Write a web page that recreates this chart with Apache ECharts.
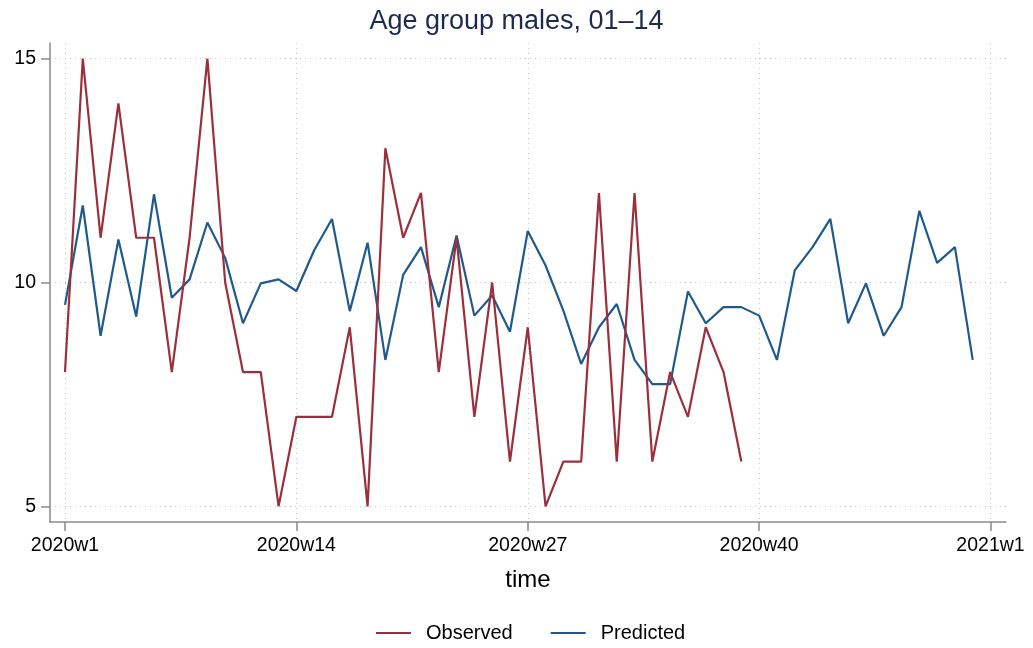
<!DOCTYPE html>
<html>
<head>
<meta charset="utf-8">
<script src="https://cdn.jsdelivr.net/npm/echarts@6/dist/echarts.min.js"></script>
<style>
html,body{margin:0;padding:0;background:#fff;}
#c{width:1033px;height:648px;}
</style>
</head>
<body>
<div id="c"></div>
<script>
const weekLabels = ['2020w1','2020w14','2020w27','2020w40','2021w1'];
const weekTicks = [0, 13, 26, 39, 52];
const yTicks = [5, 10, 15];
const observed = [8,15,11,14,11,11,8,11,15,10,8,8,5,7,7,7,9,5,13,11,12,8,11,7,10,6,9,5,6,6,12,6,12,6,8,7,9,8,6];
const predicted = [9.50,11.72,8.81,10.96,9.24,11.97,9.66,10.07,11.34,10.55,9.09,9.98,10.07,9.81,10.72,11.42,9.36,10.89,8.27,10.17,10.79,9.45,11.05,9.26,9.71,8.90,11.15,10.38,9.37,8.18,9.00,9.52,8.27,7.73,7.73,9.80,9.09,9.45,9.45,9.26,8.27,10.27,10.79,11.42,9.09,9.98,8.81,9.45,11.60,10.44,10.79,8.27];

const obsData = observed.map((v,i)=>[i,v]);
const predData = predicted.map((v,i)=>[i,v]);
const font = 'Liberation Sans, Arial, Helvetica, sans-serif';
const axisGray = '#8a8a8a';
const gridStyle = {color:'#c4c4c4', width:1, type:[1,4]};

const chart = echarts.init(document.getElementById('c'), null, {renderer:'canvas'});
chart.setOption({
  animation:false,
  backgroundColor:'#ffffff',
  title:{
    text:'Age group males, 01\u201314',
    left:'center', top:3,
    textStyle:{fontFamily:font, fontSize:27, fontWeight:'normal', color:'#1c2a4e'}
  },
  legend:{
    bottom:0, left:371,
    itemWidth:35, itemHeight:14, itemGap:38,
    icon:'path://M0,6 L35,6 L35,8 L0,8 Z',
    textStyle:{fontFamily:font, fontSize:20, color:'#000', padding:[0,0,0,10]},
    data:['Observed','Predicted']
  },
  grid:{left:50, right:27, top:43, bottom:126, containLabel:false},
  xAxis:{
    type:'value', min:-0.843, max:52.87,
    name:'time', nameLocation:'middle', nameGap:46,
    nameTextStyle:{fontFamily:font, fontSize:24, color:'#000'},
    axisLine:{show:true, onZero:false, lineStyle:{color:axisGray, width:1.5}},
    axisTick:{show:true, length:9, customValues:weekTicks, lineStyle:{color:axisGray, width:1.5}},
    axisLabel:{customValues:weekTicks, margin:14, fontFamily:font, fontSize:19.5, color:'#000',
      formatter:function(v){ const k = weekTicks.indexOf(Math.round(v)); return k>=0 ? weekLabels[k] : ''; }},
    splitLine:{show:true, lineStyle:gridStyle}
  },
  yAxis:{
    type:'value', min:4.65, max:15.35,
    axisLine:{show:true, onZero:false, lineStyle:{color:axisGray, width:1.5}},
    axisTick:{show:true, length:9, customValues:yTicks, lineStyle:{color:axisGray, width:1.5}},
    axisLabel:{customValues:yTicks, margin:14, fontFamily:font, fontSize:19.5, color:'#000'},
    splitLine:{show:true, lineStyle:gridStyle}
  },
  series:[
    {name:'Observed', type:'line', data:obsData, symbol:'none', color:'#9b2f3b',
     lineStyle:{width:2.2, color:'#9b2f3b'}, z:3},
    {name:'Predicted', type:'line', data:predData, symbol:'none', color:'#1f5a8c',
     lineStyle:{width:2.2, color:'#1f5a8c'}, z:2}
  ]
});
</script>
</body>
</html>
